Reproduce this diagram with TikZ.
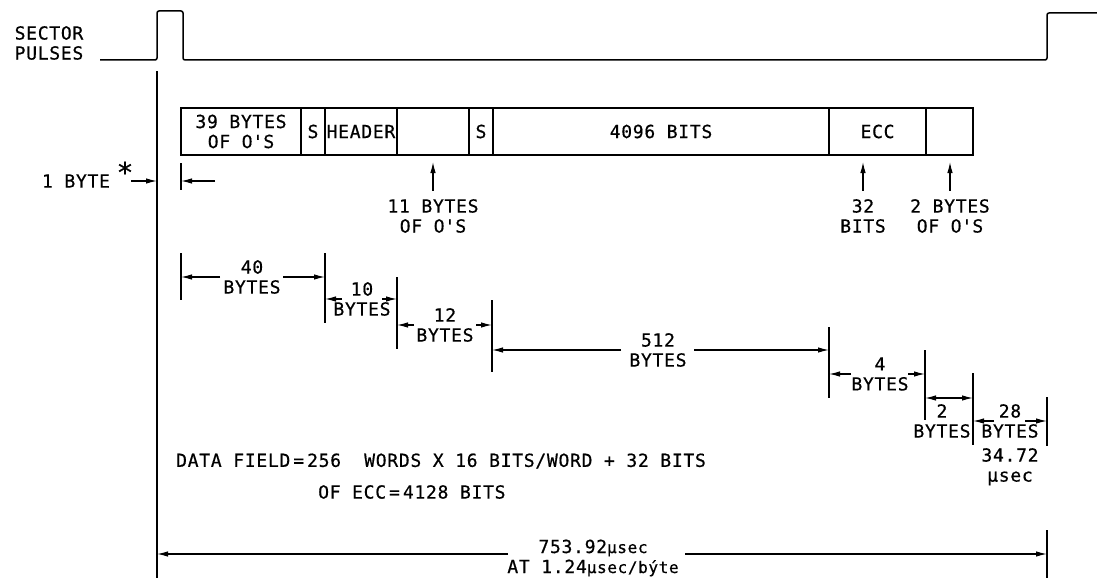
\documentclass[tikz,border=0pt]{standalone}
\usepackage{fontspec}
\setmainfont{DejaVu Sans Mono}[LetterSpace=4,FakeBold=0.6]
\usetikzlibrary{arrows.meta,positioning}

\begin{document}
\begin{tikzpicture}[x=1pt,y=-1pt,
		every node/.style={font=\fontsize{18}{20}\selectfont,inner sep=0pt,align=center},
		cell/.style={draw,line width=1.6pt,minimum height=47pt,outer sep=0pt},
		tick/.style={line width=1.3pt},
		arr/.style={line width=1.2pt,-{Latex[length=11pt,width=5.5pt]}},
		dim/.style={line width=1.2pt,{Latex[length=11pt,width=5.5pt]}-{Latex[length=11pt,width=5.5pt]}}]
	\useasboundingbox (0,0) rectangle (1097,578);

	\node[align=left] (sp) at (49,43) {SECTOR\\PULSES};
	\draw[line width=1.5pt,rounded corners=2pt] (100,60) -- (157,60) -- (157,11) -- (183,11) -- (183,60) -- (1047,60) -- (1047,13) -- (1097,13);
	\coordinate (l0) at (157,71);
	\coordinate (l1) at (157,578);
	\draw[tick] (l0) -- (l1);

	\node[cell,minimum width=120pt,anchor=north west] (c1) at (181,108) {39 BYTES\\OF O\textquotesingle S};
	\node[cell,minimum width=24pt,right=0pt of c1] (c2) {S};
	\node[cell,minimum width=72pt,right=0pt of c2] (c3) {HEADER};
	\node[cell,minimum width=72pt,right=0pt of c3] (c4) {};
	\node[cell,minimum width=24pt,right=0pt of c4] (c5) {S};
	\node[cell,minimum width=336pt,right=0pt of c5] (c6) {4096 BITS};
	\node[cell,minimum width=97pt,right=0pt of c6] (c7) {ECC};
	\node[cell,minimum width=47pt,right=0pt of c7] (c8) {};

	\node (ob) at (76,181) {1 BYTE};
	\node[font=\fontsize{28}{28}\selectfont] (ast) at (125,172) {*};
	\coordinate (ob1) at (131,181);
	\coordinate (ob2) at (215,181);
	\draw[arr] (ob1) -- (ob1 -| l0);
	\draw[tick] (c1.south west) ++(0,8) -- ++(0,27);
	\draw[arr] (ob2) -- (ob2 -| c1.west);

	\node (n11) at (433,216) {11 BYTES\\OF O\textquotesingle S};
	\draw[arr,shorten <=8pt,shorten >=7pt] (n11.north) -- (n11.north |- c4.south);
	\node (n32) at (863,216) {32\\BITS};
	\draw[arr,shorten <=8pt,shorten >=7pt] (n32.north) -- (n32.north |- c7.south);
	\node (n2o) at (950,216) {2 BYTES\\OF O\textquotesingle S};
	\draw[arr,shorten <=8pt,shorten >=7pt] (n2o.north) -- (n2o.north |- c8.south);

	\coordinate (t1) at (181,253);
	\coordinate (t2) at (325,253);
	\coordinate (t3) at (397,277);
	\coordinate (t4) at (492,300);
	\coordinate (t5) at (829,327);
	\coordinate (t6) at (925,350);
	\coordinate (t7) at (973,373);
	\coordinate (t8) at (1047,397);
	\coordinate (t9) at (1047,530);
	\draw[tick] (t1) -- ++(0,47);
	\draw[tick] (t2) -- ++(0,70);
	\draw[tick] (t3) -- ++(0,72);
	\draw[tick] (t4) -- ++(0,72);
	\draw[tick] (t5) -- ++(0,71);
	\draw[tick] (t6) -- ++(0,70);
	\draw[tick] (t7) -- ++(0,72);
	\draw[tick] (t8) -- ++(0,49);
	\draw[tick] (t9) -- ++(0,48);

	\node (d40) at (252,277) {40\\BYTES};
	\draw[arr] ([xshift=-32pt]d40.center) -- (d40.center -| t1);
	\draw[arr] ([xshift=31pt]d40.center) -- (d40.center -| t2);
	\node (d10) at (362,299) {10\\BYTES};
	\draw[arr] ([xshift=-20pt]d10.center) -- (d10.center -| t2);
	\draw[arr] ([xshift=20pt]d10.center) -- (d10.center -| t3);
	\node (d12) at (445,325) {12\\BYTES};
	\draw[arr] ([xshift=-31pt]d12.center) -- (d12.center -| t3);
	\draw[arr] ([xshift=31pt]d12.center) -- (d12.center -| t4);
	\node (d512) at (658,350) {512\\BYTES};
	\draw[arr] ([xshift=-37pt]d512.center) -- (d512.center -| t4);
	\draw[arr] ([xshift=36pt]d512.center) -- (d512.center -| t5);
	\node (d4) at (880,374) {4\\BYTES};
	\draw[arr] ([xshift=-29pt]d4.center) -- (d4.center -| t5);
	\draw[arr] ([xshift=28pt]d4.center) -- (d4.center -| t6);
	\node (d2) at (942,421) {2\\BYTES};
	\coordinate (m2) at (949,398);
	\draw[dim] (m2 -| t6) -- (m2 -| t7);
	\node (d28) at (1010,421) {28\\BYTES};
	\draw[arr] ([xshift=-16pt]d28.center) -- (d28.center -| t7);
	\draw[arr] ([xshift=15pt]d28.center) -- (d28.center -| t8);
	\node[below=10pt of d28] (us) {34.72\\μsec};

	\node[anchor=west] (df1) at (176,461) {DATA FIELD\,=\,256~ WORDS X 16 BITS/WORD + 32 BITS};
	\node[anchor=west] (df2) at (318,492) {OF ECC\,=\,4128 BITS};

	\coordinate (m753) at (597,554);
	\node (tot) at (593,558) {753.92{\fontsize{16}{20}\selectfont μsec}\\AT 1.24{\fontsize{16}{20}\selectfont μsec/býte}};
	\draw[arr] ([xshift=-89pt]m753) -- (m753 -| l0);
	\draw[arr] ([xshift=88pt]m753) -- (m753 -| t9);
\end{tikzpicture}
\end{document}
